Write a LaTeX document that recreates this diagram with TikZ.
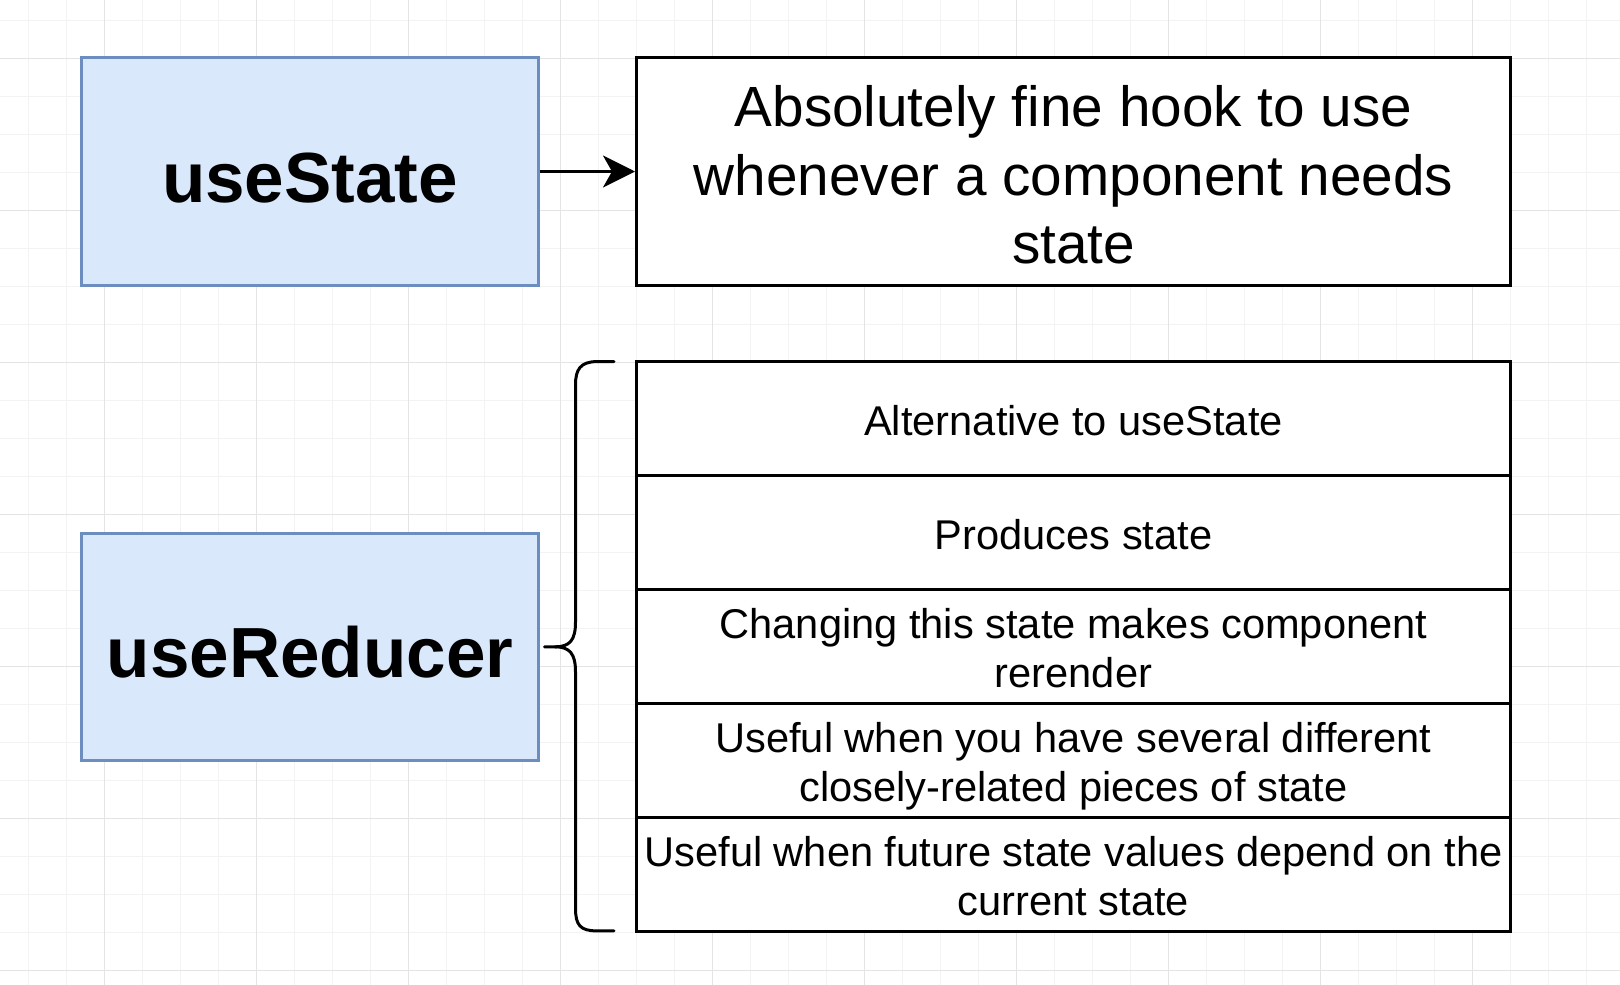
\documentclass[tikz,border=0pt]{standalone}
\usepackage{fontspec}
\setmainfont{Liberation Sans}
\usetikzlibrary{arrows.meta,positioning}
\definecolor{hookfill}{HTML}{DAE8FC}
\definecolor{hookdraw}{HTML}{6C8EBF}
\definecolor{minorline}{HTML}{F3F3F3}
\definecolor{majorline}{HTML}{E4E4E4}
\begin{document}
\begin{tikzpicture}[x=1pt,y=-1pt,
		hookbox/.style = {draw=hookdraw, fill=hookfill, line width=3pt, minimum width=456.7pt, minimum height=227.4pt, inner sep=0pt, text height=61.6pt, text depth=0pt, font=\fontsize{71}{85}\selectfont\bfseries},
		notebox/.style = {draw=black, fill=white, line width=3pt, minimum width=874pt, minimum height=227.4pt, inner sep=0pt, align=center, text height=183.6pt, text depth=0pt, font=\fontsize{56.7}{68.3}\selectfont},
		rowbox/.style = {draw=black, fill=white, line width=3pt, minimum width=874pt, minimum height=113.86pt, inner sep=0pt, align=center, text depth=0pt, font=\fontsize{41.6}{49}\selectfont},
		bracket/.style = {draw=black, line width=3pt, line cap=round, line join=round}
	]
	\useasboundingbox (0,0) rectangle (1620,985);
	\fill[white] (0,0) rectangle (1620,985);
	\foreach \x in {28,66,...,1620}{ \draw[minorline, line width=1pt] (\x,0) -- (\x,985);}
	\foreach \y in {20,58,...,985}{ \draw[minorline, line width=1pt] (0,\y) -- (1620,\y);}
	\foreach \x in {104,256,...,1620}{ \draw[majorline, line width=1pt] (\x,0) -- (\x,985);}
	\foreach \y in {58,210,...,985}{ \draw[majorline, line width=1pt] (0,\y) -- (1620,\y);}

	\node[hookbox] (usestate) at (310,171.5) {useState};
	\node[notebox] (statenote) at (1073.5,171.5) {Absolutely fine hook to use\\whenever a component needs\\state};
	\draw[line width=3pt, -{Stealth[length=32pt,width=32pt,inset=9pt]}] (usestate.east) -- (statenote.west);

	\node[hookbox] (usereducer) at (310,646.8) {useReducer};
	\foreach \txt/\hgt[count=\i] in {{Alternative to useState}/33,{Produces state}/33,{Changing this state makes component\\rerender}/82,{Useful when you have several different\\closely-related pieces of state}/82,{Useful when future state values depend on the\\current state}/82}{ \node[rowbox, text height=\hgt pt] (row\i) at (1073.5,{418.7+113.86*(\i-1)}) {\txt};}

	\coordinate (bracetop) at (614,361.6);
	\coordinate (bracetip) at (544.5,646.8);
	\coordinate (bracebot) at (614,930.9);
	\draw[bracket] (bracetop) -- (597,361.6) .. controls (580,361.6) and (575.5,370) .. (575.5,385) -- (575.5,622) .. controls (575.5,640) and (570,646.8) .. (555,646.8) -- (bracetip);
	\draw[bracket] (555,646.8) .. controls (570,646.8) and (575.5,654) .. (575.5,672) -- (575.5,908) .. controls (575.5,925) and (580,930.9) .. (597,930.9) -- (bracebot);
\end{tikzpicture}
\end{document}
